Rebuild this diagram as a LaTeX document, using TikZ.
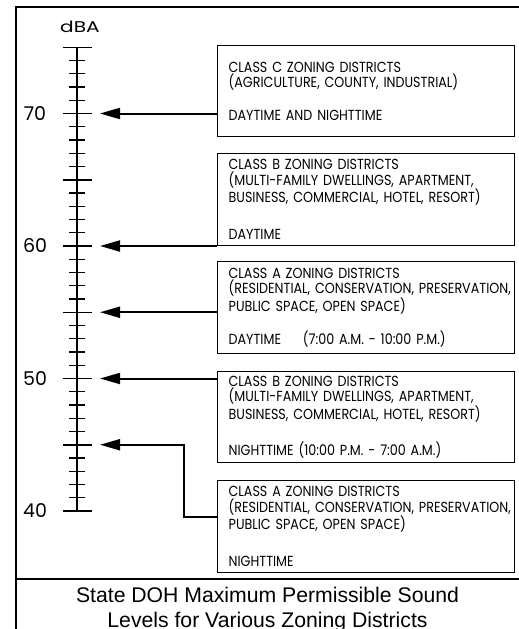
\documentclass[tikz,border=0pt]{standalone}
\usepackage{fontspec}
\setmainfont{Liberation Sans}
\newfontfamily\boxfont[FakeStretch=0.87]{Poppins}
\newfontfamily\numfont{Poppins}
\usetikzlibrary{arrows.meta}
\tikzset{
  frameline/.style={line width=2.2pt, line cap=rect},
  axisline/.style={line width=2pt},
  minortick/.style={line width=1.4pt},
  majortick/.style={line width=1.5pt},
  zonebox/.style={draw, line width=1.3pt, anchor=north west, minimum width=297pt,
    text width=275pt, inner xsep=11pt, inner ysep=0pt, align=left,
    font=\boxfont\fontsize{14.6}{15.2}\selectfont},
  arr/.style={line width=2pt, -{Triangle[length=20pt,width=11pt]}},
  numlabel/.style={font=\numfont\fontsize{19}{19}\selectfont, inner sep=0pt},
  caption/.style={font=\fontsize{21.2}{21.2}\selectfont, anchor=base, inner sep=0pt}
}
\newcommand{\yv}[1]{511-(#1-40)*13.25}
\newcommand{\bxl}[1]{\mbox{#1}}
\begin{document}
\begin{tikzpicture}[x=1pt,y=-1pt]
\useasboundingbox (0,0) rectangle (519,629);
% frame
\draw[frameline] (519,7) -- (16,7) -- (16,629);
\draw[frameline] (16,579) -- (519,579);
% axis
\draw[axisline] (77,{\yv{75}}) -- (77,{\yv{40}});
\foreach \v in {40,...,75}{
  \draw[minortick] (69,{\yv{\v}}) -- (85,{\yv{\v}});
}
\foreach \v in {40,45,...,75}{
  \draw[majortick] (63,{\yv{\v}}) -- (92,{\yv{\v}});
}
\foreach \v in {40,50,60,70}{
  \node[numlabel] (n\v) at (35,{\yv{\v}}) {\v};
}
\node[inner sep=0pt, font=\numfont\fontsize{15.5}{15.5}\selectfont] (dba) at (80,27) {\scalebox{1.3}[1]{dBA}};
% tick targets
\coordinate (t70) at (100,{\yv{70}});
\coordinate (t60) at (100,{\yv{60}});
\coordinate (t55) at (100,{\yv{55}});
\coordinate (t50) at (100,{\yv{50}});
\coordinate (t45) at (100,{\yv{45}});
% boxes
\node[zonebox, minimum height=91pt] (C) at (217,45) {\bxl{CLASS C ZONING DISTRICTS}\\
\bxl{(AGRICULTURE, COUNTY, INDUSTRIAL)}\\[18pt]
\bxl{DAYTIME AND NIGHTTIME}};
\node[zonebox, minimum height=92pt] (B1) at (217,153) {\bxl{CLASS B ZONING DISTRICTS}\\
\bxl{(MULTI-FAMILY DWELLINGS, APARTMENT,}\\
\bxl{BUSINESS, COMMERCIAL, HOTEL, RESORT)}\\[22pt]
\bxl{DAYTIME}};
\node[zonebox, minimum height=92pt] (A1) at (217,261) {\bxl{CLASS A ZONING DISTRICTS}\\
\bxl{(RESIDENTIAL, CONSERVATION, PRESERVATION,}\\
\bxl{PUBLIC SPACE, OPEN SPACE)}\\[16pt]
\bxl{DAYTIME\hspace{1.5em}(7:00 A.M. - 10:00 P.M.)}};
\node[zonebox, minimum height=91pt] (B2) at (217,371) {\bxl{CLASS B ZONING DISTRICTS}\\
\bxl{(MULTI-FAMILY DWELLINGS, APARTMENT,}\\
\bxl{BUSINESS, COMMERCIAL, HOTEL, RESORT)}\\[19pt]
\bxl{NIGHTTIME (10:00 P.M. - 7:00 A.M.)}};
\node[zonebox, minimum height=92pt] (A2) at (217,480) {\bxl{CLASS A ZONING DISTRICTS}\\
\bxl{(RESIDENTIAL, CONSERVATION, PRESERVATION,}\\
\bxl{PUBLIC SPACE, OPEN SPACE)}\\[22pt]
\bxl{NIGHTTIME}};
% arrows
\draw[arr] (C.west |- t70) -- (t70);
\draw[arr] (B1.west |- t60) -- (t60);
\draw[arr] (A1.west |- t55) -- (t55);
\draw[arr] (B2.west |- t50) -- (t50);
\coordinate (k) at (184,517);
\draw[arr] (A2.west |- k) -- (k) |- (t45);
% caption
\node[caption] (cap1) at (267.5,602) {State DOH Maximum Permissible Sound};
\node[caption] (cap2) at (267.5,627) {Levels for Various Zoning Districts};
\end{tikzpicture}
\end{document}
